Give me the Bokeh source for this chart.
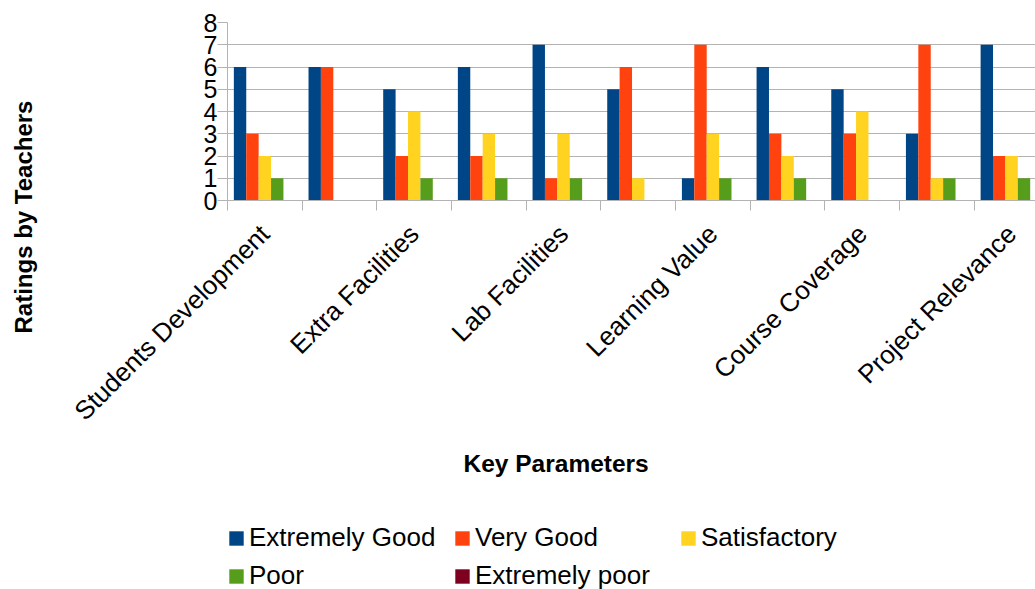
import math
from bokeh.plotting import figure
from bokeh.layouts import column
from bokeh.models import (Range1d, FixedTicker, Legend, LegendItem, Title, ColumnDataSource,
                          LinearAxis)
from bokeh.embed import file_html
from bokeh.resources import INLINE

# ---- data ----
categories = ["Students Development", "", "Extra Facilities", "", "Lab Facilities", "",
              "Learning Value", "", "Course Coverage", "", "Project Relevance"]
series_names = ["Extremely Good", "Very Good", "Satisfactory", "Poor", "Extremely poor"]
extremely_good = [6, 6, 5, 6, 7, 5, 1, 6, 5, 3, 7]
very_good = [3, 6, 2, 2, 1, 6, 7, 3, 3, 7, 2]
satisfactory = [2, 0, 4, 3, 3, 1, 3, 2, 4, 1, 2]
poor = [1, 0, 1, 1, 1, 0, 1, 1, 0, 1, 1]
extremely_poor = [0, 0, 0, 0, 0, 0, 0, 0, 0, 0, 0]
y_ticks = [0, 1, 2, 3, 4, 5, 6, 7, 8]
colors = ["#004586", "#ff420e", "#ffd320", "#579d1c", "#7e0021"]

series_values = [extremely_good, very_good, satisfactory, poor, extremely_poor]

FONT = "Liberation Sans"
GRID = "#b3b3b3"
BAR_W = 0.166

# ---------------- main chart ----------------
p = figure(width=1035, height=500, output_backend="svg", toolbar_location=None,
           title=None,
           x_range=Range1d(0, 10.82), y_range=Range1d(0, 8),
           min_border_left=227, min_border_right=0, min_border_top=22,
           min_border_bottom=300)
p.outline_line_color = None
p.background_fill_color = "white"
p.border_fill_color = "white"

centers = [i + 0.5 for i in range(len(categories))]
for k, (name, vals, col) in enumerate(zip(series_names, series_values, colors)):
    src = ColumnDataSource(dict(x=[c + (k - 2) * BAR_W for c in centers], top=vals))
    p.vbar(x="x", top="top", bottom=0, width=BAR_W, source=src,
           fill_color=col, line_color=None)

# x axis
label_ticks = [centers[i] for i, c in enumerate(categories) if c]
xa = p.xaxis[0]
xa.ticker = FixedTicker(ticks=label_ticks, minor_ticks=list(range(len(categories) + 1)))
xa.major_label_overrides = {centers[i]: c for i, c in enumerate(categories) if c}
xa.major_label_orientation = math.pi / 4
xa.major_label_text_font = FONT
xa.major_label_text_font_size = "26px"
xa.major_label_text_color = "black"
xa.major_label_standoff = 19
xa.major_tick_line_color = None
xa.major_tick_out = 0
xa.major_tick_in = 0
xa.minor_tick_line_color = GRID
xa.minor_tick_out = 10
xa.minor_tick_in = 0
xa.axis_line_color = GRID

# y axis
ya = p.yaxis[0]
ya.ticker = FixedTicker(ticks=y_ticks)
ya.major_label_text_font = FONT
ya.major_label_text_font_size = "25px"
ya.major_label_text_color = "black"
ya.major_label_standoff = 0
ya.major_tick_out = 10
ya.major_tick_in = 0
ya.major_tick_line_color = GRID
ya.minor_tick_line_color = None
ya.axis_line_color = GRID

p.xgrid.grid_line_color = None
p.ygrid.grid_line_color = GRID
p.ygrid.ticker = FixedTicker(ticks=y_ticks)

# blank spacer (invisible tick length) so the y title sits at the far left
spacer = LinearAxis(ticker=FixedTicker(ticks=[0]), major_label_overrides={0: ""},
                    major_tick_out=157, major_tick_in=0,
                    major_label_standoff=0, axis_line_color=None,
                    major_tick_line_color=None, minor_tick_line_color=None,
                    minor_tick_out=0, minor_tick_in=0)
p.add_layout(spacer, "left")

# axis titles
p.add_layout(Title(text="Ratings by Teachers", text_font=FONT, text_font_size="24px",
                   text_font_style="bold", text_color="black", align="left",
                   offset=-133, standoff=14), "left")
p.add_layout(Title(text="Key Parameters", text_font=FONT, text_font_size="24.5px",
                   text_font_style="bold", text_color="black", align="left",
                   offset=236, standoff=17), "below")

# ---------------- legend strip ----------------
lg = figure(width=1035, height=89, output_backend="svg", toolbar_location=None,
            title=None, x_axis_type=None, y_axis_type=None,
            x_range=Range1d(0, 1), y_range=Range1d(0, 1),
            min_border_left=0, min_border_right=0, min_border_top=0, min_border_bottom=0)
lg.outline_line_color = None
lg.xgrid.visible = False
lg.ygrid.visible = False
lg.background_fill_color = "white"
lg.border_fill_color = "white"

legend_renderers = []
for name, col in zip(series_names, colors):
    # zero-height swatch source: only the legend shows its colour
    r = lg.vbar(x=[0.5], top=[0], bottom=0, width=0.1, fill_color=col, line_color=None)
    legend_renderers.append((name, r))

# items ordered so that the column-major 2-row grid reads row-wise
order = [0, 3, 1, 4, 2]
legend = Legend(items=[LegendItem(label=legend_renderers[i][0], renderers=[legend_renderers[i][1]])
                       for i in order],
                orientation="vertical", nrows=2, location=(0, -2),
                glyph_width=18, glyph_height=18, label_standoff=4, spacing=7,
                label_width=197,
                padding=0, margin=0, border_line_color=None, background_fill_alpha=0,
                label_text_font=FONT, label_text_font_size="26px",
                label_text_color="black")
lg.add_layout(legend, "center")

layout = column(p, lg, spacing=0)
open("out.html", "w").write(file_html(layout, INLINE))
